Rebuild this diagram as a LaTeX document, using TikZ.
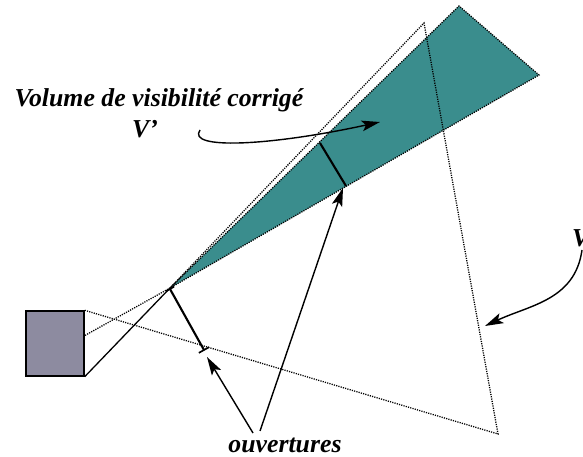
\documentclass[tikz,border=0pt]{standalone}
\usepackage{fontspec}
\setmainfont{Liberation Serif}
\usetikzlibrary{arrows.meta, positioning, calc}
\definecolor{volcolor}{RGB}{58,141,141}
\definecolor{camcolor}{RGB}{141,139,160}

\begin{document}
\begin{tikzpicture}[
    x=0.03cm, y=-0.03cm,
    lbl/.style={font=\fontsize{22}{24}\selectfont\bfseries\itshape, inner sep=0pt},
    fov/.style={dash pattern=on 1pt off 1pt, line width=1.1pt},
    ouv/.style={line width=1.8pt},
    arrow/.style={-{Stealth[length=5.5mm, width=3.2mm, inset=1.2mm]}, line width=1.2pt}
]
\useasboundingbox (0,0) rectangle (583,457);

% volume corrige V'
\coordinate (apex) at (170,288);
\coordinate (vtop) at (459,6);
\coordinate (vright) at (539,75);
\fill[volcolor] (apex) -- (vtop) -- (vright) -- cycle;
\draw[fov] (apex) -- (vtop) -- (vright) -- cycle;

% camera
\node[draw, line width=1.2pt, fill=camcolor, minimum width=58*0.03cm, minimum height=65*0.03cm, inner sep=0pt] (cam) at (55,343.5) {};
\coordinate (cmid) at (84,336);

% volume V
\coordinate (bigtop) at (424,23);
\coordinate (bigbot) at (498,434);
\draw[fov] (cam.north east) -- (bigbot) -- (bigtop) -- (apex) -- (cmid);
\draw[fov] (cam.north east) -- (cam.south east);
\draw[line width=1.1pt] (cam.south east) -- (apex);

% ouvertures
\coordinate (o1a) at (170,289);
\coordinate (o1b) at (204,350);
\coordinate (o2a) at (320,143);
\coordinate (o2b) at (346,186);
\draw[ouv] (o1a) -- (o1b);
\draw[ouv] (o2a) -- (o2b);
\draw[line width=1.4pt] ($(o1b)!5pt!90:(o1a)$) -- ($(o1b)!5pt!-90:(o1a)$);
\draw[line width=1.4pt] ($(o1a)!4pt!90:(o1b)$) -- ($(o1a)!4pt!-90:(o1b)$);

% textes
\node[lbl] (vcorr) at (159,100) {Volume de visibilité corrigé};
\node[lbl] (vprime) at (145,129) {V'};
\node[lbl] (ouvert) at (285,445) {ouvertures};
\node[lbl, anchor=west] (vlab) at (572,238) {V};

% fleches
\coordinate (s1) at (253,433);
\coordinate (s2) at (260,431);
\coordinate (t1) at (207,357);
\coordinate (t2) at (343,188);
\draw[arrow] (s1) -- (t1);
\draw[arrow] (s2) -- (t2);
\coordinate (c1) at (200,130);
\coordinate (c2) at (380,122);
\draw[arrow] (c1) .. controls (186,150) and (270,146) .. (c2);
\coordinate (d1) at (582,250);
\coordinate (d2) at (485,326);
\draw[arrow] (d1) .. controls (575,300) and (530,305) .. (d2);
\end{tikzpicture}
\end{document}
